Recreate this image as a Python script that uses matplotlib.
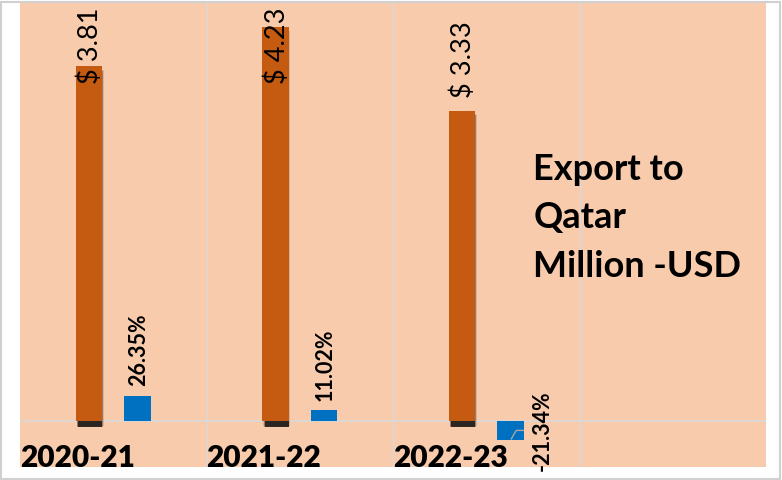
import matplotlib
matplotlib.use("Agg")
import matplotlib.pyplot as plt
from matplotlib.patches import Rectangle
import numpy as np

# values
years = ["2020-21", "2021-22", "2022-23"]
export_musd = [3.81, 4.23, 3.33]          # export to Qatar, million USD
growth = [0.2635, 0.1102, -0.2134]        # year-on-year change
title_lines = ["Export to", "Qatar", "Million -USD"]

N_SLOTS = 4
BAR_W = 0.14
OFF = 0.13
YMIN, YMAX = -0.5, 4.5

PEACH = "#F8CBAD"
ORANGE = "#C55A11"
BLUE = "#0070C0"
GRID = "#D9D9D9"

plt.rcParams["font.family"] = ["Lato", "DejaVu Sans"]

fig = plt.figure(figsize=(7.82, 4.80), dpi=100)
fig.patch.set_facecolor("white")
ax = fig.add_axes([20 / 782, 13 / 480, 746 / 782, 465 / 480])
ax.set_facecolor(PEACH)
ax.set_xlim(-0.5, N_SLOTS - 0.5)
ax.set_ylim(YMIN, YMAX)
for s in ax.spines.values():
    s.set_visible(False)
ax.set_xticks([])
ax.set_yticks([])

# gridlines between categories and the zero line
for b in np.arange(0.5, N_SLOTS - 0.5, 1.0):
    ax.axvline(b, color=GRID, lw=1.0, zorder=1)
ax.axhline(0, color=GRID, lw=1.2, zorder=1)

x = np.arange(len(years))
xo = x - OFF
xb = x + OFF

# soft dark shadow under the orange bars
for w_add, a in [(0.016, 0.12), (0.008, 0.3), (0.0, 0.7)]:
    ax.bar(xo + 0.006, np.array(export_musd) + 0.02, width=BAR_W - 0.012 + w_add,
           bottom=-0.075 + w_add, color="black", alpha=a, lw=0, zorder=2)
ax.bar(xo, export_musd, width=BAR_W, color=ORANGE, lw=0, zorder=3)
ax.bar(xb, growth, width=BAR_W, color=BLUE, lw=0, zorder=3)

# export value labels (pushed down when they would leave the plot)
lab_len = 0.79
gap = 0.136
for xi, v in zip(xo, export_musd):
    txt = f"$ {v:.2f}"
    if v + gap + lab_len > YMAX:
        ax.annotate(txt, (xi, YMAX), xytext=(1, -4), textcoords="offset points",
                    rotation=90, ha="center", va="top", fontsize=19.5, zorder=5)
    else:
        ax.annotate(txt, (xi, v), xytext=(1, 9), textcoords="offset points",
                    rotation=90, ha="center", va="bottom", fontsize=19.5, zorder=5)

# growth labels
for xi, g in zip(xb, growth):
    txt = f"{g * 100:.2f}%"
    if g >= 0:
        ax.annotate(txt, (xi, g), xytext=(1, 7), textcoords="offset points",
                    rotation=90, ha="center", va="bottom", fontsize=15.5,
                    fontweight="bold", zorder=5)
    else:
        ax.annotate(txt, (xi, g / 2), xytext=(23, 0), textcoords="offset points",
                    rotation=90, ha="center", va="center", fontsize=15.5,
                    fontweight="bold", zorder=5)
        ax.annotate("", (xi, g), xytext=(xi + BAR_W / 2, g / 2),
                    arrowprops=dict(arrowstyle="-", color="#A6A6A6", lw=1,
                                    shrinkA=0, shrinkB=1,
                                    connectionstyle="angle,angleA=0,angleB=60,rad=0"),
                    zorder=4)

# category labels, left aligned at each slot boundary
for xi, lab in zip(x, years):
    ax.text(xi - 0.5, -0.4, lab, ha="left", va="center", fontsize=21.5,
            fontweight="heavy", zorder=5)

# title block inside the plot
for i, line in enumerate(title_lines):
    ax.text(0.688, 0.617 - i * 0.104, line, transform=ax.transAxes,
            ha="left", va="baseline", fontsize=26, fontweight="bold", zorder=5)

# light outer border of the chart
fig.patches.append(Rectangle((0.001, 0.002), 0.996, 0.994, transform=fig.transFigure,
                             fill=False, edgecolor="#D0D0D0", lw=1.5))

fig.savefig("out.png", dpi=100, facecolor="white")
